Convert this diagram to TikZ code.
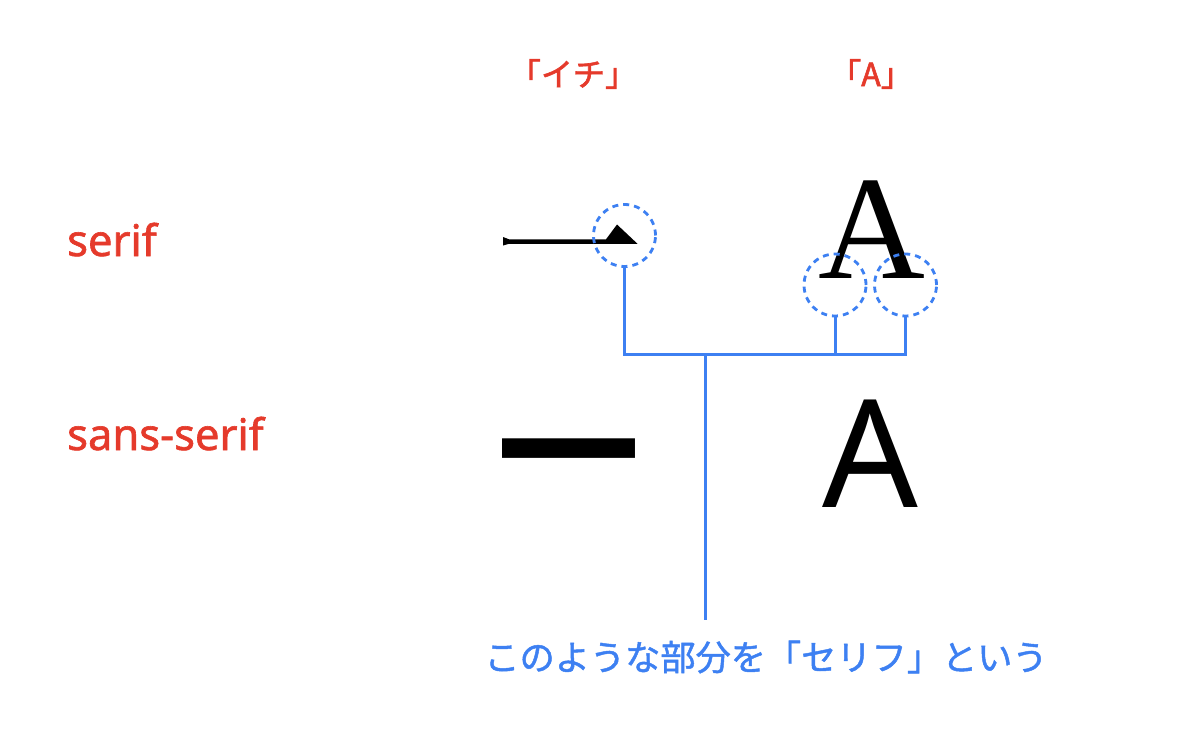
\documentclass[tikz,border=0pt]{standalone}
\usepackage{fontspec}
\setmainfont{Noto Sans CJK JP}
\newfontfamily\jpfont[FakeBold=1.3]{Noto Sans CJK JP}
\newfontfamily\headfont[FakeBold=2]{Noto Sans CJK JP}
\newfontfamily\jpplain{Noto Sans CJK JP}
\newfontfamily\lblfont[FakeBold=1.4]{Noto Sans}
\newfontfamily\latinsans{Noto Sans}
\newfontfamily\latinserif{Liberation Serif}
\definecolor{lblred}{HTML}{E53A2B}
\definecolor{serifblue}{HTML}{3D80F2}
\tikzset{
  lbl/.style={text=lblred, font=\lblfont\fontsize{43.5}{48}\selectfont, inner sep=0pt},
  head/.style={text=lblred, font=\headfont\fontsize{32}{36}\selectfont, inner sep=0pt},
  ring/.style={draw=serifblue, line width=2.8pt, dash pattern=on 6pt off 5pt, circle, minimum size=62pt, inner sep=0pt},
  wire/.style={draw=serifblue, line width=3pt},
  glyph/.style={inner sep=0pt}
}
\begin{document}
\begin{tikzpicture}[x=1pt,y=-1pt]
\useasboundingbox (0,0) rectangle (1190,738);
% column headings
\node[head] (h1) at (573,74) {「イチ」};
\node[head] (h2) at (871,74) {「A」};
% row labels
\node[lbl, anchor=base west] (l1) at (67,256) {serif};
\node[lbl, anchor=base west] (l2) at (67,450) {sans-serif};
% serif ichi drawn as a glyph shape
\fill[black] (503,237) -- (509,239.3) -- (606,239.3) -- (617,224.5) -- (637.5,243.8) -- (509,243.8) -- (503,245.5) -- cycle;
% serif A
\node[glyph, font=\latinserif\fontsize{148}{150}\selectfont, anchor=base] (aserif) at (872,278) {A};
% sans ichi
\node[glyph, font=\jpplain\bfseries\fontsize{123}{126}\selectfont] (ichisans) at (569,468) {\scalebox{1.16}[1]{一}};
% sans A
\node[glyph, font=\latinsans\fontsize{150}{150}\selectfont, anchor=base] (asans) at (870,507) {A};
% rings
\node[ring] (r1) at (624.5,235.5) {};
\node[ring] (r2) at (835,285) {};
\node[ring] (r3) at (905.5,285) {};
% connectors
\coordinate (j1) at (624.5,354);
\coordinate (j2) at (835,354);
\coordinate (j3) at (905.5,354);
\coordinate (jm) at (705,354);
\coordinate (stemend) at (705,620);
\draw[wire] (r1.south) -- (j1) -- (j3) -- (r3.south);
\draw[wire] (r2.south) -- (j2);
\draw[wire] (jm) -- (stemend);
% caption
\node[text=serifblue, font=\jpfont\fontsize{35.2}{40}\selectfont, inner sep=0pt] (cap) at (766,657) {このような部分を「セリフ」という};
\end{tikzpicture}
\end{document}
